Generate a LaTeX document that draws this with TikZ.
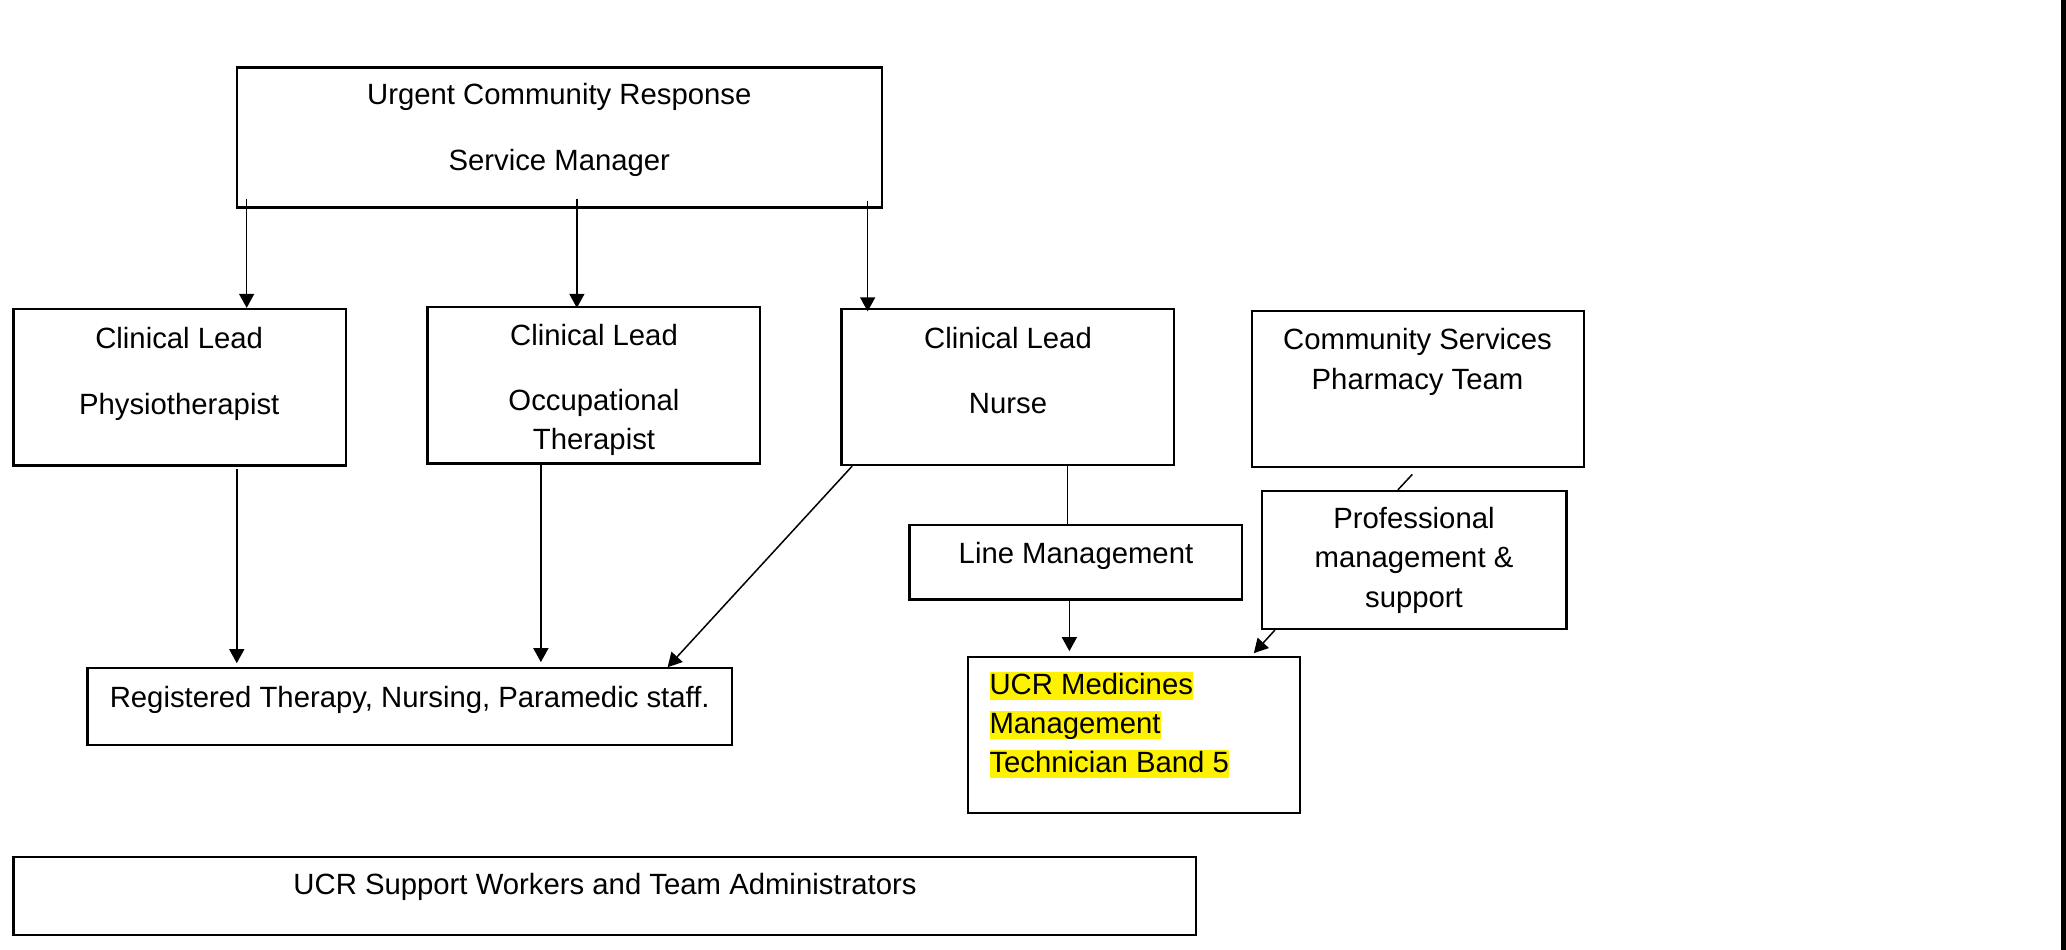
\documentclass[tikz,border=0pt]{standalone}
\usepackage{fontspec}
\setmainfont{Liberation Sans}
\usetikzlibrary{arrows.meta,calc,fit}

\tikzset{
  box/.style={draw=black, line width=0.9pt, inner sep=0pt, rectangle},
  txt/.style={inner sep=0pt, anchor=base, font=\fontsize{11.72pt}{14pt}\selectfont},
  hl/.style={inner sep=0pt, anchor=base west, fill=yellow, text height=0.905em, text depth=0.212em,
    font=\fontsize{11.72pt}{14pt}\selectfont},
  link/.style={line width=0.6pt},
  arr/.style={line width=0.6pt, -{Triangle[length=5.6pt,width=6pt]}},
}

\begin{document}
\begin{tikzpicture}[x=0.4pt, y=-0.4pt]
\useasboundingbox (0,0) rectangle (2066,950);

% boxes
\node[box, fit={(237,67.5) (882,207.5)}]      (top)   {};
\node[box, fit={(13.4,309) (346,465.5)}]      (phys)  {};
\node[box, fit={(427.5,307) (760.3,463.5)}]   (ot)    {};
\node[box, fit={(841.5,309) (1174,465)}]      (nurse) {};
\node[box, fit={(1252,311) (1584,467)}]       (pharm) {};
\node[box, fit={(909.5,525.2) (1242,599.5)}]  (lm)    {};
\node[box, fit={(1262,491) (1566.5,629)}]     (prof)  {};
\node[box, fit={(967.7,657.3) (1300,813.3)}]  (ucr)   {};
\node[box, fit={(87.5,668.3) (732.2,745)}]    (reg)   {};
\node[box, fit={(13.5,856.7) (1196,935)}]     (sup)   {};

% texts
\node[txt] (t-top1) at (559.3,105)  {Urgent Community Response};
\node[txt] (t-top2) at (559.3,170.7) {Service Manager};
\node[txt] (t-ph1)  at (179.2,349)  {Clinical Lead};
\node[txt] (t-ph2)  at (179.2,415)  {Physiotherapist};
\node[txt] (t-ot1)  at (594,346)    {Clinical Lead};
\node[txt] (t-ot2)  at (594,411)    {Occupational};
\node[txt] (t-ot3)  at (594,449.3)  {Therapist};
\node[txt] (t-nu1)  at (1008,348.3) {Clinical Lead};
\node[txt] (t-nu2)  at (1008,414)   {Nurse};
\node[txt] (t-pc1)  at (1417.5,350) {Community Services};
\node[txt] (t-pc2)  at (1417.5,389.3) {Pharmacy Team};
\node[txt] (t-lm)   at (1076,564)   {Line Management};
\node[txt] (t-pr1)  at (1414,528.3) {Professional};
\node[txt] (t-pr2)  at (1414,568)   {management \&};
\node[txt] (t-pr3)  at (1414,607.5) {support};
\node[txt] (t-reg)  at (409.7,707.3) {Registered Therapy, Nursing, Paramedic staff.};
\node[txt] (t-sup)  at (605,895)    {UCR Support Workers and Team Administrators};
\node[hl]  (t-uc1)  at (989,694.5)  {UCR Medicines};
\node[hl]  (t-uc2)  at (989,733.5)  {Management};
\node[hl]  (t-uc3)  at (989,772.5)  {Technician Band 5};

% connectors
\draw[arr] ($(top.south west)+(10.8,-10)$) coordinate (s1) -- (s1 |- phys.north);
\draw[arr] ($(top.south west)+(341,-10)$) coordinate (s2) -- ($(s2 |- ot.north)+(0,2)$);
\draw[arr] ($(top.south east)+(-15.5,-8)$) coordinate (s3) -- ($(s3 |- nurse.north)+(0,3.5)$);
\draw[arr] ($(phys.south west)+(224.5,2)$) coordinate (s4) -- ($(s4 |- reg.north)+(0,-4)$);
\draw[arr] ($(ot.south west)+(114.5,0)$) coordinate (s5) -- ($(s5 |- reg.north)+(0,-5)$);
\draw[arr] ($(nurse.south west)+(11.8,0)$) -- ($(reg.north east)+(-65.7,0)$);
\draw[link] ($(nurse.south west)+(227,-1.5)$) coordinate (s7) -- (s7 |- lm.north);
\draw[arr] ($(lm.south west)+(161,0)$) coordinate (s8) -- ($(s8 |- ucr.north)+(0,-5)$);
\draw[link] ($(pharm.south west)+(161.4,6.3)$) -- ($(prof.north west)+(137,0)$);
\draw[arr] ($(prof.south west)+(14,0)$) -- ($(ucr.north east)+(-47.3,-3)$);

% right-hand rule
\fill[black] (2061,0) rectangle (2066,950);
\end{tikzpicture}
\end{document}
